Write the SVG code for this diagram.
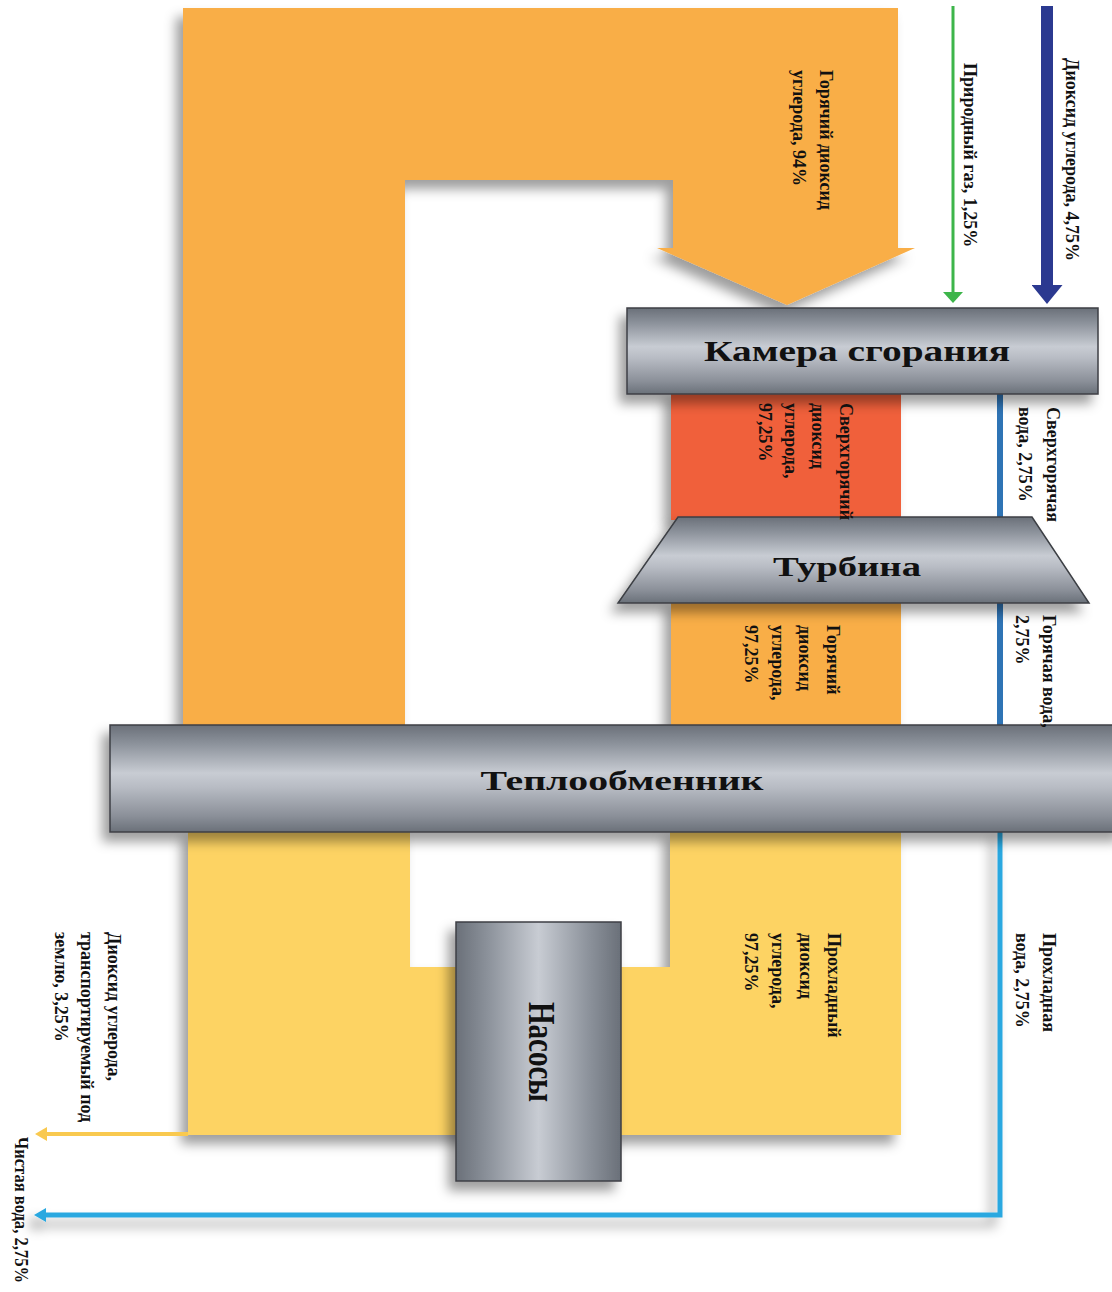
<svg xmlns="http://www.w3.org/2000/svg" width="1112" height="1292" viewBox="0 0 1112 1292">
<style>
.lbl{font-family:"Liberation Serif","Times New Roman",serif;font-weight:bold;font-size:18px;fill:#111}
.node-t{font-family:"Liberation Serif","Times New Roman",serif;font-weight:bold;fill:#111}
.metal{stroke:#3c3f44;stroke-width:1.5}
</style>
<defs>
<linearGradient id="gMetalV" x1="0" y1="0" x2="0" y2="1">
<stop offset="0" stop-color="#6a7079"/>
<stop offset="0.18" stop-color="#8d939c"/>
<stop offset="0.45" stop-color="#c8ccd3"/>
<stop offset="0.58" stop-color="#b8bcc4"/>
<stop offset="0.85" stop-color="#8b9099"/>
<stop offset="1" stop-color="#6a7079"/>
</linearGradient>
<linearGradient id="gMetalH" x1="0" y1="0" x2="1" y2="0">
<stop offset="0" stop-color="#6a7079"/>
<stop offset="0.2" stop-color="#8d939c"/>
<stop offset="0.5" stop-color="#c8ccd3"/>
<stop offset="0.8" stop-color="#8d939c"/>
<stop offset="1" stop-color="#6a7079"/>
</linearGradient>
<filter id="shadow" x="-20%" y="-20%" width="140%" height="150%">
<feDropShadow dx="-7" dy="9" stdDeviation="6" flood-color="#000" flood-opacity="0.38"/>
</filter>
<marker id="mGreen" viewBox="0 0 11 20" refX="0" refY="10" markerWidth="11" markerHeight="20" markerUnits="userSpaceOnUse" orient="auto"><path d="M0,0 L11,10 L0,20 z" fill="#3db54a"/></marker>
<marker id="mNavy" viewBox="0 0 19 31" refX="0" refY="15.5" markerWidth="19" markerHeight="31" markerUnits="userSpaceOnUse" orient="auto"><path d="M0,0 L19,15.5 L0,31 z" fill="#2b3990"/></marker>
<marker id="mYellow" viewBox="0 0 12 14" refX="0" refY="7" markerWidth="12" markerHeight="14" markerUnits="userSpaceOnUse" orient="auto"><path d="M0,0 L12,7 L0,14 z" fill="#f9c94f"/></marker>
<marker id="mBlue" viewBox="0 0 12 14" refX="0" refY="7" markerWidth="12" markerHeight="14" markerUnits="userSpaceOnUse" orient="auto"><path d="M0,0 L12,7 L0,14 z" fill="#29a8e0"/></marker>
</defs>
<rect width="1112" height="1292" fill="#ffffff"/>

<g id="connectors">
<path id="flow-hot-co2-94" d="M183,8 H898 V248 H915 L787,305 L657,248 H673 V180 H405 V726 H183 Z" fill="#f9ae47" filter="url(#shadow)"/>
<rect id="flow-superhot-co2" x="671" y="390" width="230" height="130" fill="#f0613a" filter="url(#shadow)"/>
<rect id="flow-hot-co2-9725" x="671" y="600" width="230" height="128" fill="#f9ae47" filter="url(#shadow)"/>
<path id="flow-cool-co2" d="M188,830 H410 V967 H670 V830 H901 V1135 H188 Z" fill="#fdd363" filter="url(#shadow)"/>
<line id="flow-natural-gas" x1="953" y1="6" x2="953" y2="292" stroke="#3db54a" stroke-width="3" marker-end="url(#mGreen)"/>
<line id="flow-co2-in" x1="1047" y1="6" x2="1047" y2="285" stroke="#2b3990" stroke-width="12" marker-end="url(#mNavy)"/>
<line id="flow-water-hot" x1="1000" y1="392" x2="1000" y2="728" stroke="#2f74b5" stroke-width="6"/>
<path id="flow-water-cool" d="M1000,830 V1215 H46" fill="none" stroke="#29a8e0" stroke-width="5" marker-end="url(#mBlue)" filter="url(#shadow)"/>
<line id="flow-co2-out" x1="188" y1="1134" x2="47" y2="1134" stroke="#f9c94f" stroke-width="4" marker-end="url(#mYellow)"/>
</g>

<g id="node-combustion">
<rect x="627" y="308" width="471" height="86" fill="url(#gMetalV)" class="metal" filter="url(#shadow)"/>
<text class="node-t" x="857" y="361" font-size="29" text-anchor="middle" textLength="306" lengthAdjust="spacingAndGlyphs">Камера сгорания</text>
</g>

<g id="node-turbine">
<path d="M678,517 H1032 L1089,603 H618 Z" fill="url(#gMetalV)" class="metal" filter="url(#shadow)"/>
<text class="node-t" x="847" y="576" font-size="27" text-anchor="middle" textLength="148" lengthAdjust="spacingAndGlyphs">Турбина</text>
</g>

<g id="node-heat-exchanger">
<rect x="110" y="725" width="1015" height="107" fill="url(#gMetalV)" class="metal" filter="url(#shadow)"/>
<text class="node-t" x="622" y="790" font-size="28" text-anchor="middle" textLength="283" lengthAdjust="spacingAndGlyphs">Теплообменник</text>
</g>

<g id="node-pumps">
<rect x="456" y="922" width="165" height="259" fill="url(#gMetalH)" class="metal" filter="url(#shadow)"/>
<text class="node-t" transform="translate(529,1052) rotate(90)" x="0" y="0" font-size="38" text-anchor="middle" textLength="100" lengthAdjust="spacingAndGlyphs">Насосы</text>
</g>

<g id="labels">
<text class="lbl" transform="translate(1066,58) rotate(90)">Диоксид углерода, 4,75%</text>
<text class="lbl" transform="translate(964,63) rotate(90)">Природный газ, 1,25%</text>
<text class="lbl" transform="translate(820,70) rotate(90)"><tspan x="0" dy="0">Горячий диоксид</tspan><tspan x="0" dy="27">углерода, 94%</tspan></text>
<text class="lbl" transform="translate(840,403) rotate(90)"><tspan x="0" dy="0">Сверхгорячий</tspan><tspan x="0" dy="28">диоксид</tspan><tspan x="0" dy="27">углерода,</tspan><tspan x="0" dy="26">97,25%</tspan></text>
<text class="lbl" transform="translate(1047,407) rotate(90)"><tspan x="0" dy="0">Сверхгорячая</tspan><tspan x="0" dy="28">вода, 2,75%</tspan></text>
<text class="lbl" transform="translate(827,625) rotate(90)"><tspan x="0" dy="0">Горячий</tspan><tspan x="0" dy="28">диоксид</tspan><tspan x="0" dy="27">углерода,</tspan><tspan x="0" dy="27">97,25%</tspan></text>
<text class="lbl" transform="translate(1043,615) rotate(90)"><tspan x="0" dy="0">Горячая вода,</tspan><tspan x="0" dy="27">2,75%</tspan></text>
<text class="lbl" transform="translate(828,933) rotate(90)"><tspan x="0" dy="0">Прохладный</tspan><tspan x="0" dy="28">диоксид</tspan><tspan x="0" dy="28">углерода,</tspan><tspan x="0" dy="27">97,25%</tspan></text>
<text class="lbl" transform="translate(1043,933) rotate(90)"><tspan x="0" dy="0">Прохладная</tspan><tspan x="0" dy="27">вода, 2,75%</tspan></text>
<text class="lbl" transform="translate(108,932) rotate(90)"><tspan x="0" dy="0">Диоксид углерода,</tspan><tspan x="0" dy="27">транспортируемый под</tspan><tspan x="0" dy="26">землю, 3,25%</tspan></text>
<text class="lbl" transform="translate(15,1137) rotate(90)" textLength="146" lengthAdjust="spacingAndGlyphs">Чистая вода, 2,75%</text>
</g>
</svg>
